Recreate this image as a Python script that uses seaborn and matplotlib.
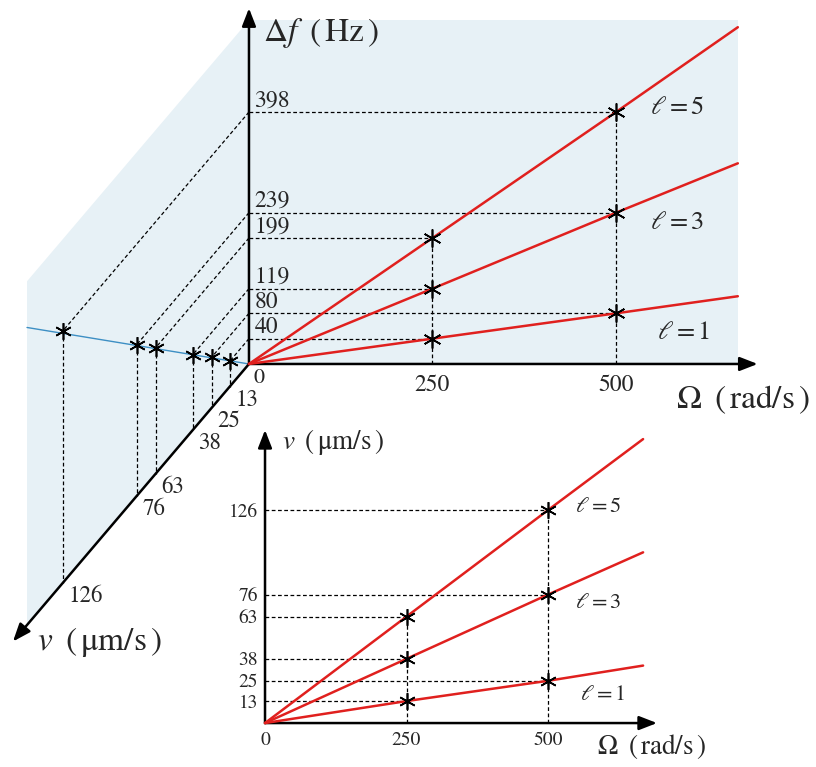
import numpy as np
import pandas as pd
import matplotlib
matplotlib.use("Agg")
import matplotlib.pyplot as plt
import seaborn as sns

# values
ells = [1, 3, 5]
omega_ticks = [250, 500]
df_250 = [40, 119, 199]      # Δf (Hz) at Ω = 250 rad/s
df_500 = [80, 239, 398]      # Δf (Hz) at Ω = 500 rad/s
v_250 = [13, 38, 63]         # v (μm/s) at Ω = 250 rad/s
v_500 = [25, 76, 126]        # v (μm/s) at Ω = 500 rad/s
omega_end = 666              # red lines stop here (upper chart)
df_end = [107, 317, 532]
omega_end_low = 668          # red lines stop here (lower chart)
v_end = [34, 101, 168]
side_v_end = 150             # blue Δf-v line on the side wall
side_df_end = 470

sns.set_theme(style="white")
plt.rcParams["font.family"] = ["STIXGeneral", "DejaVu Serif"]
plt.rcParams["mathtext.fontset"] = "stix"

RED = "#e0201e"
WALL = "#e7f1f6"
BLUE = "#3d8fc4"
dash = dict(color="black", lw=0.9, ls=(0, (3, 2)), zorder=2)
star = dict(ls="none", marker=(6, 2, 0), color="black", mew=1.2, zorder=5)
arrow = dict(arrowstyle="-|>,head_length=0.9,head_width=0.35", color="black",
             lw=1.8, shrinkA=0, shrinkB=0)

fig = plt.figure(figsize=(8.16, 7.67), dpi=100)

# ---- upper chart: Ω horizontal, Δf vertical, v drawn obliquely ----
ax = fig.add_axes([0, 0, 1, 1])
ax.axis("off")

V_OM, V_DF = -2.016, -2.749   # one μm/s of v expressed in (Ω, Δf) units


def proj(om, df, v):
    return om + V_OM * np.asarray(v, float), df + V_DF * np.asarray(v, float)


# shaded walls
top = 543
ax.fill([0, omega_end, omega_end, 0], [0, 0, top, top], color=WALL, lw=0, zorder=0)
cx, cy = zip(proj(0, 0, 0), proj(0, top, 0), proj(0, top, side_v_end), proj(0, 0, side_v_end))
ax.fill(cx, cy, color=WALL, lw=0, zorder=0)

# guide lines
for om, dfs, vs in [(250, df_250, v_250), (500, df_500, v_500)]:
    ax.plot([om, om], [0, max(dfs)], **dash)
    for df, v in zip(dfs, vs):
        ax.plot([0, om], [df, df], **dash)
        sx, sy = proj(0, df, v)
        bx, by = proj(0, 0, v)
        ax.plot([0, sx], [df, sy], **dash)
        ax.plot([sx, bx], [sy, by], **dash)

# Δf-v relation on the side wall
lx, ly = proj(0, np.array([0, side_df_end]), np.array([0, side_v_end]))
ax.plot(lx, ly, color=BLUE, lw=1.0, zorder=3)
sx, sy = proj(0, np.array(df_250 + df_500), np.array(v_250 + v_500))
ax.plot(sx, sy, ms=12, **star)

# Δf vs Ω lines
rows = []
for i, l in enumerate(ells):
    rows += [(0, 0, l), (250, df_250[i], l), (500, df_500[i], l), (omega_end, df_end[i], l)]
main = pd.DataFrame(rows, columns=["omega", "df", "ell"])
sns.lineplot(data=main, x="omega", y="df", hue="ell", palette=[RED] * 3,
             legend=False, lw=1.8, sort=False, estimator=None, ax=ax, zorder=4)
ax.plot([250] * 3 + [500] * 3, df_250 + df_500, ms=13, **star)
ax.set_xlim(-339.2, 772.5)
ax.set_ylim(-636.7, 575.0)

# axes arrows
ax.annotate("", xy=(0, 562), xytext=(0, 0), arrowprops=arrow)
ax.annotate("", xy=(693, 0), xytext=(0, 0), arrowprops=arrow)
ax.annotate("", xy=proj(0, 0, 159.5), xytext=(0, 0), arrowprops=arrow)

# tick labels
for df in df_250 + df_500:
    ax.annotate(str(df), (0, df), xytext=(4, 0.5), textcoords="offset points",
                ha="left", va="bottom", fontsize=17)
for om in omega_ticks:
    ax.annotate(str(om), (om, 0), xytext=(0, -8), textcoords="offset points",
                ha="center", va="top", fontsize=17)
ax.annotate("0", (0, 0), xytext=(3.5, -3), textcoords="offset points",
            ha="left", va="top", fontsize=16)
for v in sorted(v_250 + v_500):
    ax.annotate(str(v), proj(0, 0, v), xytext=(4, -2), textcoords="offset points",
                ha="left", va="top", fontsize=16.5)

ax.annotate(r"$\Delta f\;\;(\,\mathrm{Hz}\,)$", (0, 562), xytext=(10, -18),
            textcoords="offset points", ha="left", va="center", fontsize=24)
ax.annotate(r"$\Omega\;\;(\,\mathrm{rad/s}\,)$", (693, 0), xytext=(-59, -26),
            textcoords="offset points", ha="left", va="center", fontsize=24)
ax.annotate(r"$v\;\;(\,\mathrm{\mu m/s}\,)$", proj(0, 0, 159.5), xytext=(17, 0),
            textcoords="offset points", ha="left", va="center", fontsize=24)
for l, pos in zip(ells, [(556, 49), (546, 223), (546, 404)]):
    ax.text(*pos, rf"$\ell = {l}$", ha="left", va="center", fontsize=19)

# ---- lower chart: v vs Ω ----
ax2 = fig.add_axes([240 / 816, 0, 480 / 816, 347 / 767])
ax2.set_facecolor("none")
rows = []
for i, l in enumerate(ells):
    rows += [(0, 0, l), (250, v_250[i], l), (500, v_500[i], l), (omega_end_low, v_end[i], l)]
low = pd.DataFrame(rows, columns=["omega", "v", "ell"])
for om, vs in [(250, v_250), (500, v_500)]:
    ax2.plot([om, om], [0, max(vs)], **dash)
    for v in vs:
        ax2.plot([0, om], [v, v], **dash)
sns.lineplot(data=low, x="omega", y="v", hue="ell", palette=[RED] * 3,
             legend=False, lw=1.8, sort=False, estimator=None, ax=ax2, zorder=4)
ax2.plot([250] * 3 + [500] * 3, v_250 + v_500, ms=12, **star)
ax2.set_xlim(-44.2, 803.9)
ax2.set_ylim(-26.0, 179.3)
ax2.annotate("", xy=(692.6, 0), xytext=(0, 0), arrowprops=arrow)
ax2.annotate("", xy=(0, 173.4), xytext=(0, 0), arrowprops=arrow)

for s in ax2.spines.values():
    s.set_visible(False)
ax2.spines["left"].set_position(("data", 0))
ax2.spines["bottom"].set_position(("data", 0))
ax2.set_xticks([0] + omega_ticks)
ax2.set_yticks(sorted(v_250 + v_500))
ax2.tick_params(length=0, labelsize=14)
ax2.tick_params(axis="x", pad=6)
ax2.tick_params(axis="y", pad=5)
ax2.set_xlabel("")
ax2.set_ylabel("")

ax2.annotate(r"$\Omega\;\;(\,\mathrm{rad/s}\,)$", (692.6, 0), xytext=(-43, -17),
             textcoords="offset points", ha="left", va="center", fontsize=19.5)
ax2.annotate(r"$v\;\;(\,\mathrm{\mu m/s}\,)$", (0, 173.4), xytext=(12, -9),
             textcoords="offset points", ha="left", va="center", fontsize=19.5)
for l, pos in zip(ells, [(557, 16.6), (548, 71), (548, 128)]):
    ax2.text(*pos, rf"$\ell = {l}$", ha="left", va="center", fontsize=16)

fig.savefig("out.png", dpi=100)
